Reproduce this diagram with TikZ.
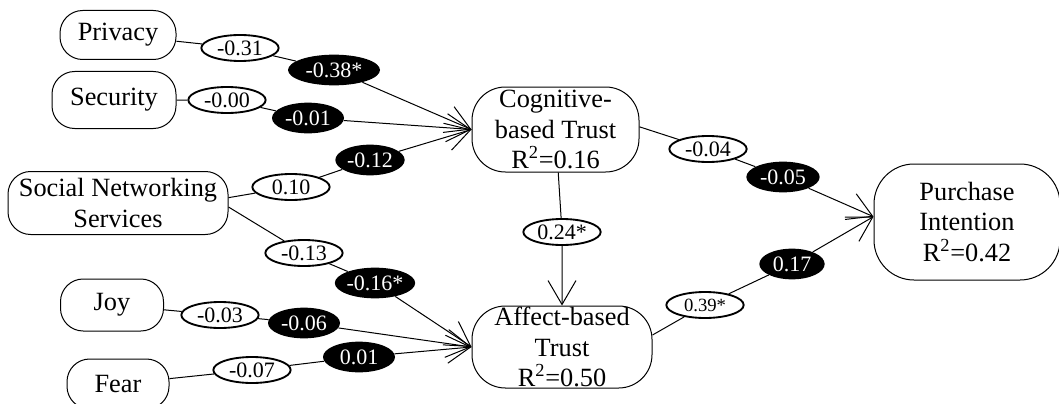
\documentclass[tikz,border=0pt]{standalone}
\usepackage{fontspec}
\setmainfont{Liberation Serif}
\usetikzlibrary{shapes.geometric,arrows.meta}
\tikzset{
box/.style={draw,line width=0.75pt,rounded corners=17pt,align=center,inner sep=0pt,font=\fontsize{19.75}{23}\selectfont},
bigbox/.style={box,rounded corners=25pt},
wlab/.style={draw,ellipse,line width=1.4pt,fill=white,inner sep=0pt,minimum width=58pt,minimum height=19.5pt,font=\fontsize{16.5}{18}\selectfont},
blab/.style={ellipse,fill=black,text=white,inner sep=0pt,minimum width=54pt,minimum height=23pt,font=\fontsize{16.5}{18}\selectfont},
link/.style={line width=0.75pt},
arr/.style={-{Straight Barb[length=18pt,width=21pt]}}
}
\begin{document}
\begin{tikzpicture}
[x=0.75pt,y=-0.75pt]
\useasboundingbox (0,0) rectangle (1059,403);
\node [box,minimum width=87pt,minimum height=36.75pt] (priv) at (118,35) {Privacy};
\node [box,minimum width=93pt,minimum height=42.75pt] (sec) at (114,100) {Security};
\node [box,minimum width=165pt,minimum height=47.25pt] (sns) at (118,203) {Social Networking\\Services};
\node [box,minimum width=77.25pt,minimum height=39pt] (joy) at (112,305) {Joy};
\node [box,minimum width=76.5pt,minimum height=37.5pt] (fear) at (118,384) {Fear};
\node [bigbox,minimum width=125.25pt,minimum height=63.75pt] (cog) at (555.5,129.5) {Cognitive-\\based Trust\\R\textsuperscript{2}=0.16};
\node [bigbox,minimum width=135pt,minimum height=61.5pt] (aff) at (562,347) {Affect-based\\Trust\\R\textsuperscript{2}=0.50};
\node [bigbox,rounded corners=30pt,minimum width=139.5pt,minimum height=87pt] (pur) at (967,222) {Purchase\\Intention\\R\textsuperscript{2}=0.42};
\node [wlab] (p31) at (240,48) {-0.31};
\node [blab,minimum width=69pt] (p38) at (334,70) {-0.38*};
\node [wlab] (s00) at (227,100) {-0.00};
\node [blab] (s01) at (308,118) {-0.01};
\node [wlab] (n10) at (291,187) {0.10};
\node [blab,minimum width=52pt] (n12) at (370,160) {-0.12};
\node [wlab] (n13) at (304,253) {-0.13};
\node [blab,minimum width=59pt] (n16) at (375,283) {-0.16*};
\node [wlab] (j03) at (220,315) {-0.03};
\node [blab] (j06) at (304,323) {-0.06};
\node [wlab] (f07) at (252,370) {-0.07};
\node [blab] (f01) at (359,357) {0.01};
\node [wlab] (r24) at (562,232) {0.24*};
\node [wlab] (c04) at (708,149) {-0.04};
\node [blab,minimum width=55pt] (c05) at (783,177) {-0.05};
\node [wlab,font=\fontsize{14}{16}\selectfont] (a39) at (705,305) {0.39*};
\node [blab,minimum width=49pt] (a17) at (792,264) {0.17};
\draw [link,arr] (priv) -- (p31) -- (p38) -- (cog.west);
\draw [link,arr] (sec) -- (s00) -- (s01) -- (cog.west);
\draw [link,arr] ([yshift=4pt]sns.east) -- (n10) -- (n12) -- (cog.west);
\draw [link,arr] ([yshift=-3pt]sns.east) -- (n13) -- (n16) -- (aff.west);
\draw [link,arr] (joy) -- (j03) -- (j06) -- (aff.west);
\draw [link,arr] (fear) -- (f07) -- (f01) -- (aff.west);
\draw [link,arr] (cog) -- (r24) -- (aff);
\draw [link,arr] ([yshift=2pt]cog.east) -- (c04) -- (c05) -- ([yshift=4pt]pur.west);
\draw [link,arr] ([yshift=9pt]aff.east) -- (a39) -- (a17) -- ([yshift=4pt]pur.west);
\end{tikzpicture}
\end{document}
